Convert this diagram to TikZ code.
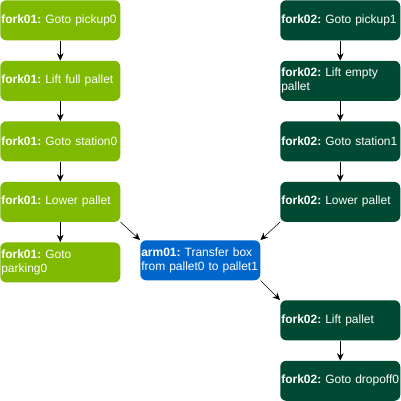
\documentclass[tikz,border=0pt]{standalone}
\usepackage{fontspec}
\setmainfont{Liberation Sans}
\usetikzlibrary{positioning,arrows.meta}
\definecolor{forkonegreen}{RGB}{127,186,0}
\definecolor{forktwogreen}{RGB}{0,74,51}
\definecolor{armblue}{RGB}{0,102,204}
\tikzset{
  task/.style={rounded corners=4.5pt,text=white,font=\fontsize{9}{10.5}\selectfont\frenchspacing,
    minimum width=90pt,minimum height=30pt,text width=88.5pt,align=left,
    inner xsep=0.75pt,inner ysep=0pt},
  forkone/.style={task,fill=forkonegreen},
  forktwo/.style={task,fill=forktwogreen},
  arm/.style={task,fill=armblue},
  flow/.style={-{Stealth[length=5.5pt,width=5pt]},thin}
}
\begin{document}
\begin{tikzpicture}[node distance=15pt]
\useasboundingbox (0,0) rectangle (300.75pt,-300.75pt);
\node[forkone,anchor=north west] (a1) at (0,0) {\textbf{fork01:} Goto pickup0};
\node[forkone,below=of a1] (a2) {\textbf{fork01:} Lift full pallet};
\node[forkone,below=of a2] (a3) {\textbf{fork01:} Goto station0};
\node[forkone,below=of a3] (a4) {\textbf{fork01:} Lower pallet};
\node[forkone,below=of a4] (a5) {\textbf{fork01:} Goto\\parking0};
\node[forktwo,anchor=north west] (b1) at (210pt,0) {\textbf{fork02:} Goto pickup1};
\node[forktwo,below=of b1] (b2) {\textbf{fork02:} Lift empty\\pallet};
\node[forktwo,below=of b2] (b3) {\textbf{fork02:} Goto station1};
\node[forktwo,below=of b3] (b4) {\textbf{fork02:} Lower pallet};
\node[arm,anchor=north west] (c1) at (105pt,-180pt) {\textbf{arm01:} Transfer box\\from pallet0 to pallet1};
\node[forktwo,anchor=north west] (b5) at (210pt,-225pt) {\textbf{fork02:} Lift pallet};
\node[forktwo,below=of b5] (b6) {\textbf{fork02:} Goto dropoff0};
\draw[flow] (a1) -- (a2);
\draw[flow] (a2) -- (a3);
\draw[flow] (a3) -- (a4);
\draw[flow] (a4) -- (a5);
\draw[flow] (b1) -- (b2);
\draw[flow] (b2) -- (b3);
\draw[flow] (b3) -- (b4);
\draw[flow] (b5) -- (b6);
\draw[flow] (a4.south east) -- (c1.north west);
\draw[flow] (b4.south west) -- (c1.north east);
\draw[flow] (c1.south east) -- (b5.north west);
\end{tikzpicture}
\end{document}
